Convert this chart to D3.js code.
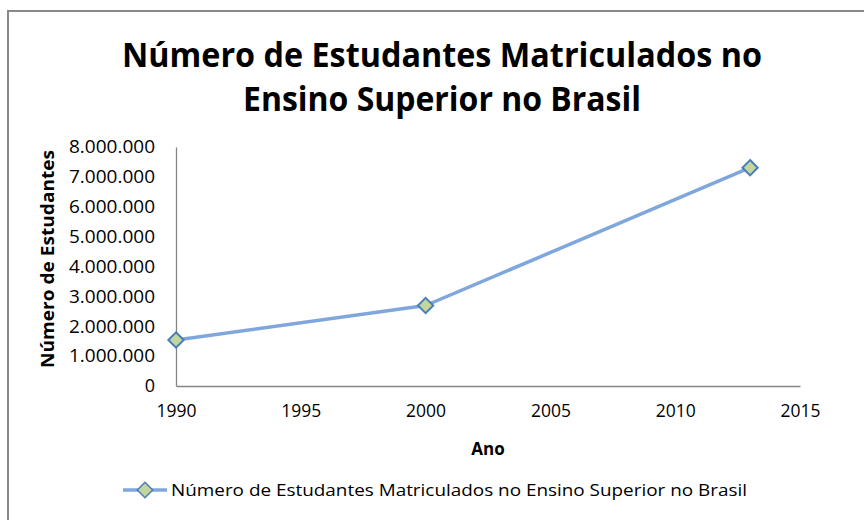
<!DOCTYPE html>
<html lang="pt">
<head>
    <meta charset="UTF-8">
    <title>Número de Estudantes Matriculados no Ensino Superior no Brasil</title>
    <script src="https://cdn.jsdelivr.net/npm/d3@7"></script>
    <style>
        body { margin: 0; background: #fff; }
        text { font-family: "Open Sans", "Noto Sans", sans-serif; fill: #000; }
    </style>
</head>
<body>
<div class="chart"></div>
<script>
    const width = 864
    const height = 520
    const plot = { left: 176, right: 800, top: 147, bottom: 386 }

    // dados
    const anos = [1990, 2000, 2013]
    const matriculas = [1540080, 2694245, 7305977]
    const xTicks = [1990, 1995, 2000, 2005, 2010, 2015]
    const yTicks = [0, 1000000, 2000000, 3000000, 4000000, 5000000, 6000000, 7000000, 8000000]
    const titulo = ['Número de Estudantes Matriculados no', 'Ensino Superior no Brasil']
    const serieNome = 'Número de Estudantes Matriculados no Ensino Superior no Brasil'

    const data = anos.map((a, i) => ({ ano: a, valor: matriculas[i] }))

    const lineColor = '#7fa7dd'
    const markerFill = '#c3d69b'
    const markerStroke = '#4a7ebb'
    const axisColor = '#868686'

    const fmt = d3.formatLocale({ decimal: ',', thousands: '.', grouping: [3], currency: ['R$', ''] }).format(',')

    const x = d3.scaleLinear().domain([1990, 2015]).range([plot.left, plot.right])
    const y = d3.scaleLinear().domain([0, 8000000]).range([plot.bottom, plot.top])

    const svg = d3.select('.chart').append('svg')
        .attr('width', width)
        .attr('height', height)

    // moldura
    svg.append('rect')
        .attr('x', 8).attr('y', 11)
        .attr('width', 900).attr('height', 600)
        .attr('fill', 'none')
        .attr('stroke', '#888')
        .attr('stroke-width', 2)

    // titulo
    svg.selectAll('.title').data(titulo).enter().append('text')
        .attr('class', 'title')
        .attr('x', 442)
        .attr('y', (d, i) => 67 + i * 44)
        .attr('text-anchor', 'middle')
        .attr('font-size', '34px')
        .attr('font-weight', 'bold')
        .attr('textLength', (d, i) => i === 0 ? 640 : 398)
        .attr('lengthAdjust', 'spacingAndGlyphs')
        .text(d => d)

    // eixos
    const xAxis = d3.axisBottom(x).tickValues(xTicks).tickFormat(d3.format('d')).tickSize(0).tickPadding(18)
    const yAxis = d3.axisLeft(y).tickValues(yTicks).tickFormat(fmt).tickSize(0).tickPadding(21)

    const gx = svg.append('g')
        .attr('transform', `translate(0, ${plot.bottom})`)
        .call(xAxis)
    const gy = svg.append('g')
        .attr('transform', `translate(${plot.left}, 0)`)
        .call(yAxis)

    ;[gx, gy].forEach(g => {
        g.attr('font-family', null).attr('font-size', null)
        g.select('.domain').attr('stroke', axisColor).attr('stroke-width', 1.3)
        g.selectAll('.tick text')
            .style('font-size', '18px')
            .attr('fill', '#000')
    })
    gx.selectAll('.tick text').attr('dy', '0.71em')
        .attr('textLength', 40).attr('lengthAdjust', 'spacingAndGlyphs')
    gy.selectAll('.tick text').attr('textLength', d => d === 0 ? null : 86).attr('lengthAdjust', 'spacingAndGlyphs')

    // rotulos dos eixos
    svg.append('text')
        .attr('x', 488).attr('y', 455)
        .attr('text-anchor', 'middle')
        .attr('font-size', '17px')
        .attr('font-weight', 'bold')
        .text('Ano')

    svg.append('text')
        .attr('transform', 'translate(54, 259) rotate(-90)')
        .attr('text-anchor', 'middle')
        .attr('font-size', '17px')
        .attr('font-weight', 'bold')
        .attr('textLength', 218)
        .attr('lengthAdjust', 'spacingAndGlyphs')
        .text('Número de Estudantes')

    // linha
    const line = d3.line().x(d => x(d.ano)).y(d => y(d.valor))
    svg.append('path')
        .datum(data)
        .attr('fill', 'none')
        .attr('stroke', lineColor)
        .attr('stroke-width', 3.5)
        .attr('stroke-linejoin', 'round')
        .attr('d', line)

    const diamond = d3.symbol().type(d3.symbolDiamond2).size(150)
    svg.selectAll('.marker').data(data).enter().append('path')
        .attr('class', 'marker')
        .attr('transform', d => `translate(${x(d.ano)}, ${y(d.valor)})`)
        .attr('d', diamond)
        .attr('fill', markerFill)
        .attr('stroke', markerStroke)
        .attr('stroke-width', 2)

    // legenda
    const leg = svg.append('g').attr('transform', 'translate(123, 490)')
    leg.append('line')
        .attr('x1', 0).attr('x2', 44)
        .attr('stroke', lineColor)
        .attr('stroke-width', 3.5)
    leg.append('path')
        .attr('transform', 'translate(22, 0)')
        .attr('d', diamond)
        .attr('fill', markerFill)
        .attr('stroke', markerStroke)
        .attr('stroke-width', 1.5)
    leg.append('text')
        .attr('x', 48).attr('y', 0)
        .attr('dy', '0.35em')
        .attr('font-size', '17px')
        .attr('textLength', 576)
        .attr('lengthAdjust', 'spacingAndGlyphs')
        .text(serieNome)
</script>
</body>
</html>
